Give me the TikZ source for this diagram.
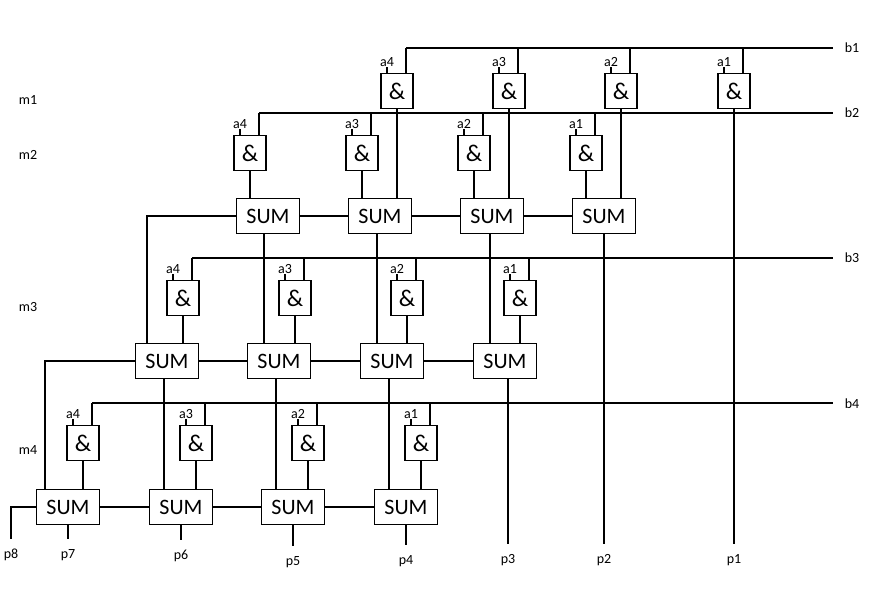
\documentclass[tikz,border=0pt]{standalone}
\usepackage{fontspec}
\setmainfont{Carlito}
\begin{document}
\begin{tikzpicture}[x=1pt,y=-1pt,line width=1.2pt,
  gate/.style={draw,minimum width=32pt,minimum height=35pt,inner sep=0pt,font=\fontsize{24}{24}\selectfont},
  sum/.style={draw,minimum width=63pt,minimum height=35pt,inner sep=0pt,font=\fontsize{22}{22}\selectfont},
  lbl/.style={inner sep=0pt,font=\fontsize{14}{14}\selectfont},
  plbl/.style={lbl,outer ysep=10pt}]
\useasboundingbox (0,0) rectangle (870,597);
% side labels
\node[lbl] (m1) at (28,100) {m1};
\node[lbl] (m2) at (28,155) {m2};
\node[lbl] (m3) at (28,307) {m3};
\node[lbl] (m4) at (28,450) {m4};
\node[lbl] (b1) at (852,48) {b1};
\node[lbl] (b2) at (852,113) {b2};
\node[lbl] (b3) at (852,258) {b3};
\node[lbl] (b4) at (852,404) {b4};
\coordinate (e1) at (833,48);
\coordinate (e2) at (833,113);
\coordinate (e3) at (833,258);
\coordinate (e4) at (833,403);
% gates
\foreach \n/\x [count=\i] in {4/397,3/509,2/621,1/734}{
  \node[gate] (g1\i) at (\x,91) {\&};
  \node[lbl,anchor=south] (ga1\i) at (\x-10,67) {a\n};
  \draw ([xshift=-10pt]g1\i.north) -- ++(0,-6);
  \draw ([xshift=9pt]g1\i.north) -- ([xshift=9pt]g1\i.north |- e1);}
\foreach \n/\x [count=\i] in {4/250,3/362,2/474,1/586}{
  \node[gate] (g2\i) at (\x,153) {\&};
  \node[lbl,anchor=south] (ga2\i) at (\x-10,129) {a\n};
  \draw ([xshift=-10pt]g2\i.north) -- ++(0,-6);
  \draw ([xshift=9pt]g2\i.north) -- ([xshift=9pt]g2\i.north |- e2);}
\foreach \n/\x [count=\i] in {4/183,3/295,2/407,1/520}{
  \node[gate] (g3\i) at (\x,298) {\&};
  \node[lbl,anchor=south] (ga3\i) at (\x-10,274) {a\n};
  \draw ([xshift=-10pt]g3\i.north) -- ++(0,-6);
  \draw ([xshift=9pt]g3\i.north) -- ([xshift=9pt]g3\i.north |- e3);}
\foreach \n/\x [count=\i] in {4/83,3/196,2/308,1/421}{
  \node[gate] (g4\i) at (\x,443) {\&};
  \node[lbl,anchor=south] (ga4\i) at (\x-10,419) {a\n};
  \draw ([xshift=-10pt]g4\i.north) -- ++(0,-6);
  \draw ([xshift=9pt]g4\i.north) -- ([xshift=9pt]g4\i.north |- e4);}
\draw ([xshift=9pt]g11.north |- e1) -- (e1);
\draw ([xshift=9pt]g21.north |- e2) -- (e2);
\draw ([xshift=9pt]g31.north |- e3) -- (e3);
\draw ([xshift=9pt]g41.north |- e4) -- (e4);
% sums
\foreach \x [count=\i] in {268,380,492,604}{\node[sum] (s1\i) at (\x,216) {SUM};}
\foreach \x [count=\i] in {167,279,392,505}{\node[sum] (s2\i) at (\x,361) {SUM};}
\foreach \x [count=\i] in {68,181,293,406}{\node[sum] (s3\i) at (\x,507) {SUM};}
\foreach \r in {1,2,3}{
  \draw (s\r1) -- (s\r2); \draw (s\r2) -- (s\r3); \draw (s\r3) -- (s\r4);}
% outputs
\foreach \t/\x/\y in {p8/11/555,p7/68/555,p6/181/556,p5/293/562,p4/406/561,p3/508/560,p2/604/560,p1/734/560}
  \node[plbl] (\t) at (\x,\y) {\t};
% gate -> sum
\foreach \i in {1,2,3,4}{
  \draw (g2\i.south) -- (g2\i.south |- s1\i.north);
  \draw (g3\i.south) -- (g3\i.south |- s2\i.north);
  \draw (g4\i.south) -- (g4\i.south |- s3\i.north);}
\draw (g11.south) -- (g11.south |- s12.north);
\draw (g12.south) -- (g12.south |- s13.north);
\draw (g13.south) -- (g13.south |- s14.north);
\draw (g14.south) -- (p1.north);
% sum -> sum
\draw ([xshift=-15pt]s22.north) -- ([xshift=-15pt]s22.north |- s11.south);
\draw ([xshift=-15pt]s23.north) -- ([xshift=-15pt]s23.north |- s12.south);
\draw ([xshift=-15pt]s24.north) -- ([xshift=-15pt]s24.north |- s13.south);
\draw (s14.south) -- (p2.north);
\draw ([xshift=-17pt]s32.north) -- ([xshift=-17pt]s32.north |- s21.south);
\draw ([xshift=-17pt]s33.north) -- ([xshift=-17pt]s33.north |- s22.south);
\draw ([xshift=-17pt]s34.north) -- ([xshift=-17pt]s34.north |- s23.south);
\draw (s24.south -| p3) -- (p3.north);
\draw (s11.west) -| ([xshift=-20pt]s21.north);
\draw (s21.west) -| ([xshift=-23pt]s31.north);
\draw (s31.west) -| (p8.north);
\draw (s31.south) -- (p7.north);
\draw (s32.south) -- (p6.north);
\draw (s33.south) -- (p5.north);
\draw (s34.south) -- (p4.north);
\end{tikzpicture}
\end{document}
